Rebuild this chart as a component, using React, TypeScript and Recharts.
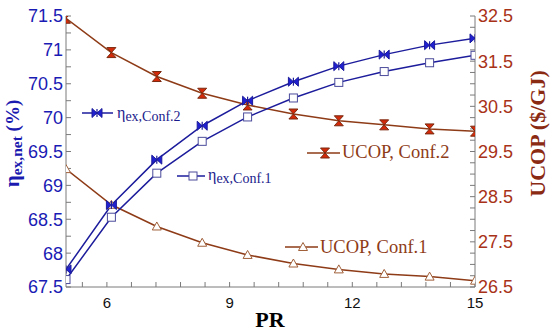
import React from 'react';
import { LineChart, Line, XAxis, YAxis } from 'recharts';

// pressure ratio (x) and the four curves
const pr = [5, 6.11, 7.22, 8.33, 9.44, 10.56, 11.67, 12.78, 13.89, 15];
const etaConf2 = [67.76, 68.71, 69.38, 69.88, 70.25, 70.53, 70.76, 70.93, 71.07, 71.17];
const etaConf1 = [67.61, 68.53, 69.18, 69.65, 70.01, 70.29, 70.52, 70.68, 70.81, 70.92];
const ucopConf2 = [32.45, 31.69, 31.16, 30.79, 30.53, 30.33, 30.18, 30.09, 30.0, 29.95];
const ucopConf1 = [29.11, 28.32, 27.84, 27.48, 27.21, 27.02, 26.89, 26.79, 26.73, 26.64];

// ticks (Origin style: labelled majors plus minor ticks)
const xTicks = [5.4, 6, 6.6, 7.2, 7.8, 8.4, 9, 9.6, 10.2, 10.8, 11.4, 12, 12.6, 13.2, 13.8, 14.4, 15];
const xLabels = [6, 9, 12, 15];
const etaTicks = [67.5, 67.75, 68, 68.25, 68.5, 68.75, 69, 69.25, 69.5, 69.75, 70, 70.25, 70.5, 70.75, 71, 71.25, 71.5];
const ucopTicks = [26.5, 26.75, 27, 27.25, 27.5, 27.75, 28, 28.25, 28.5, 28.75, 29, 29.25, 29.5, 29.75, 30, 30.25, 30.5, 30.75, 31, 31.25, 31.5, 31.75, 32, 32.25, 32.5];

const BLUE = '#1c1c9c';
const BROWN = '#8e3b17';
const AXIS = '#7a7a7a';
const SANS = '"Liberation Sans", Arial, sans-serif';
const SERIF = '"Liberation Serif", "Times New Roman", serif';

const rows = pr.map((x, i) => ({
    pr: x,
    eta2: etaConf2[i],
    eta1: etaConf1[i],
    ucop2: ucopConf2[i],
    ucop1: ucopConf1[i],
}));

const Bowtie = ({ cx, cy }: { cx: number; cy: number }) => (
    <g>
        <path d={`M${cx - 5},${cy - 4.5} L${cx},${cy} L${cx - 5},${cy + 4.5} Z M${cx + 5},${cy - 4.5} L${cx},${cy} L${cx + 5},${cy + 4.5} Z`} fill="#2020d0" stroke={BLUE} strokeWidth={1} />
        <line x1={cx} y1={cy - 4} x2={cx} y2={cy + 4} stroke={BLUE} strokeWidth={1.2} />
    </g>
);

const Hourglass = ({ cx, cy }: { cx: number; cy: number }) => (
    <path d={`M${cx - 4.5},${cy - 5} L${cx + 4.5},${cy - 5} L${cx},${cy} Z M${cx - 4.5},${cy + 5} L${cx + 4.5},${cy + 5} L${cx},${cy} Z`} fill="#d42a0a" stroke="#7a2a10" strokeWidth={1} />
);

const Square = ({ cx, cy }: { cx: number; cy: number }) => (
    <rect x={cx - 4} y={cy - 4} width={8} height={8} fill="#fff" stroke="#4b4b9b" strokeWidth={1} />
);

const Triangle = ({ cx, cy }: { cx: number; cy: number }) => (
    <path d={`M${cx},${cy - 4.5} L${cx + 4.5},${cy + 3.5} L${cx - 4.5},${cy + 3.5} Z`} fill="#fff" stroke="#a0603a" strokeWidth={1} />
);

const dotOf = (Shape: React.FC<{ cx: number; cy: number }>) => (p: any) => (
    <Shape key={`d-${p.index}`} cx={p.cx} cy={p.cy} />
);

export default function App() {
    return (
        <div style={{ position: 'absolute', left: 0, top: 0, width: 550, height: 332, background: '#fff' }}>
            <LineChart width={550} height={332} data={rows} margin={{ top: 16, right: 0, bottom: 0, left: 0 }}>
                <XAxis
                    xAxisId="bottom"
                    type="number"
                    dataKey="pr"
                    domain={[5, 15]}
                    ticks={xTicks}
                    interval={0}
                    allowDataOverflow
                    height={45}
                    tickSize={-5}
                    tickMargin={15}
                    stroke={AXIS}
                    tickFormatter={(v: number) => (xLabels.includes(v) ? String(v) : '')}
                    tick={{ fill: '#111', fontSize: 15, fontFamily: SANS }}
                />
                <XAxis
                    xAxisId="top"
                    orientation="top"
                    type="number"
                    dataKey="pr"
                    domain={[5, 15]}
                    ticks={xTicks}
                    interval={0}
                    height={0}
                    tickSize={-5}
                    stroke={AXIS}
                    tick={false}
                />
                <YAxis
                    yAxisId="left"
                    type="number"
                    domain={[67.5, 71.5]}
                    ticks={etaTicks}
                    interval={0}
                    allowDataOverflow
                    width={66}
                    tickSize={-5}
                    tickMargin={8}
                    stroke={AXIS}
                    tickFormatter={(v: number) => (Number.isInteger(v * 2) ? String(v) : '')}
                    tick={{ fill: '#1a1ab4', fontSize: 18, fontFamily: SANS }}
                />
                <YAxis
                    yAxisId="right"
                    orientation="right"
                    type="number"
                    domain={[26.5, 32.5]}
                    ticks={ucopTicks}
                    interval={0}
                    allowDataOverflow
                    width={75}
                    tickSize={-5}
                    tickMargin={8}
                    stroke={AXIS}
                    tickFormatter={(v: number) => (Number.isInteger(v - 0.5) ? String(v) : '')}
                    tick={{ fill: '#a83218', fontSize: 18, fontFamily: SANS }}
                />

                <Line xAxisId="bottom" yAxisId="right" dataKey="ucop1" stroke={BROWN} strokeWidth={1.5} dot={dotOf(Triangle)} isAnimationActive={false} />
                <Line xAxisId="bottom" yAxisId="right" dataKey="ucop2" stroke={BROWN} strokeWidth={1.5} dot={dotOf(Hourglass)} isAnimationActive={false} />
                <Line xAxisId="bottom" yAxisId="left" dataKey="eta1" stroke={BLUE} strokeWidth={1.5} dot={dotOf(Square)} isAnimationActive={false} />
                <Line xAxisId="bottom" yAxisId="left" dataKey="eta2" stroke={BLUE} strokeWidth={1.5} dot={dotOf(Bowtie)} isAnimationActive={false} />
            </LineChart>

            {/* axis titles and the in-plot legend labels */}
            <svg width={550} height={332} style={{ position: 'absolute', left: 0, top: 0, pointerEvents: 'none' }}>
                <text transform="rotate(-90, 19, 143.5)" x={19} y={143.5} textAnchor="middle" fill="#1a1ab0" fontFamily={SERIF} fontWeight="bold">
                    <tspan fontSize={21}>η</tspan>
                    <tspan fontSize={15.5} dy={3}>ex,net</tspan>
                    <tspan fontSize={19} dy={-3}> (%)</tspan>
                </text>
                <text transform="rotate(-90, 545, 133.5)" x={545} y={133.5} textAnchor="middle" fill="#8b2a12" fontFamily={SERIF} fontWeight="bold" fontSize={22}>
                    UCOP ($/GJ)
                </text>
                <text x={270} y={327} textAnchor="middle" fill="#000" fontFamily={SERIF} fontWeight="bold" fontSize={22}>PR</text>

                <line x1={82} y1={113} x2={113} y2={113} stroke={BLUE} strokeWidth={1.5} />
                <Bowtie cx={97} cy={113} />
                <text x={117} y={118} fill="#1a1a8c" fontFamily={SERIF}>
                    <tspan fontSize={16}>η</tspan>
                    <tspan fontSize={14} dy={3}>ex,Conf.2</tspan>
                </text>

                <line x1={177} y1={176} x2={205} y2={176} stroke={BLUE} strokeWidth={1.5} />
                <Square cx={193} cy={176} />
                <text x={208} y={180} fill="#1a1a8c" fontFamily={SERIF}>
                    <tspan fontSize={16}>η</tspan>
                    <tspan fontSize={14} dy={3}>ex,Conf.1</tspan>
                </text>

                <line x1={307} y1={153} x2={340} y2={153} stroke={BROWN} strokeWidth={1.5} />
                <Hourglass cx={325} cy={153} />
                <text x={342} y={158} fill={BROWN} fontFamily={SERIF} fontSize={18.5}>UCOP, Conf.2</text>

                <line x1={285} y1={247} x2={318} y2={247} stroke={BROWN} strokeWidth={1.5} />
                <Triangle cx={303} cy={247} />
                <text x={320} y={253} fill={BROWN} fontFamily={SERIF} fontSize={18.5}>UCOP, Conf.1</text>
            </svg>
        </div>
    );
}
